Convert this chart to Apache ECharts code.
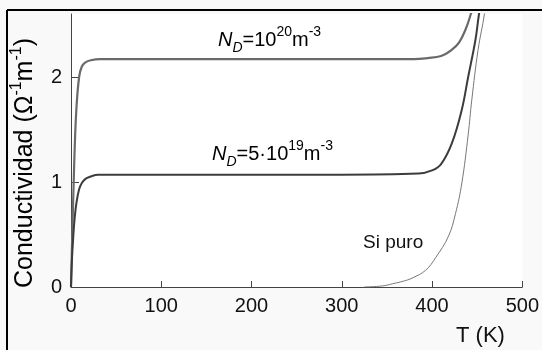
<!DOCTYPE html>
<html><head><meta charset="utf-8">
<script src="https://cdn.jsdelivr.net/npm/echarts@6/dist/echarts.min.js"></script>
<style>html,body{margin:0;padding:0;background:#f9f9f9;}#c{width:542px;height:350px;}</style>
</head><body><div id="c"></div>
<script>
// Data
const xTicks = [0, 100, 200, 300, 400, 500];
const yTicks = [0, 1, 2];
const T_1e20 = [0, 1, 2, 3, 4, 6, 9, 12, 16, 22, 32, 100, 200, 300, 380, 395, 410, 422, 430, 437, 443, 450];
const S_1e20 = [0, 0.35, 0.7, 1.0, 1.3, 1.7, 2.0, 2.1, 2.14, 2.16, 2.17, 2.17, 2.17, 2.17, 2.17, 2.18, 2.2, 2.26, 2.33, 2.45, 2.6, 2.8];
const T_5e19 = [0, 1, 2.5, 4, 6, 9, 12, 16, 21, 30, 100, 200, 300, 385, 400, 410, 422, 433, 440, 448, 452, 456];
const S_5e19 = [0, 0.25, 0.48, 0.65, 0.8, 0.93, 0.99, 1.03, 1.05, 1.07, 1.07, 1.07, 1.07, 1.08, 1.11, 1.17, 1.37, 1.69, 2.0, 2.35, 2.6, 2.8];
const T_Si = [325, 345, 356, 368, 378, 393, 404, 418, 426, 433, 440, 444, 451, 458, 462];
const S_Si = [0, 0.01, 0.03, 0.055, 0.085, 0.16, 0.28, 0.48, 0.7, 0.99, 1.45, 1.78, 2.26, 2.6, 2.9];
const labels = ['1e20', '5e19', 'Si puro'];

const zip = (a, b) => a.map((v, i) => [v, b[i]]);
const FF = '"Liberation Sans", Arial, sans-serif';
const chart = echarts.init(document.getElementById('c'));
const sub = {fontSize: 14, fontStyle: 'italic', fontFamily: FF, color: '#111', verticalAlign: 'bottom', lineHeight: 16};
const sup = {fontSize: 14, fontFamily: FF, color: '#111', verticalAlign: 'top', lineHeight: 16};
const base = {fontSize: 20, fontFamily: FF, color: '#111', lineHeight: 30, verticalAlign: 'middle'};
const rich = {n: Object.assign({}, base, {fontStyle: 'italic'}), d: sub, t: base, s: sup};

chart.setOption({
  backgroundColor: '#f9f9f9',
  animation: false,
  grid: {left: 71, right: 18, top: 14, bottom: 63, show: true, backgroundColor: '#ffffff', borderWidth: 0},
  xAxis: {
    type: 'value', min: xTicks[0], max: xTicks[xTicks.length - 1], interval: 100,
    axisLine: {lineStyle: {color: '#444', width: 1}},
    axisTick: {inside: true, length: 6, lineStyle: {color: '#444'}},
    axisLabel: {fontSize: 20, fontFamily: FF, color: '#111', margin: 9},
    splitLine: {show: false}
  },
  yAxis: {
    type: 'value', min: 0, max: 2.6, interval: 1,
    axisLine: {show: true, lineStyle: {color: '#444', width: 1}},
    axisTick: {inside: true, length: 8, lineStyle: {color: '#444'}, customValues: yTicks},
    axisLabel: {fontSize: 20, fontFamily: FF, color: '#111', margin: 9, customValues: yTicks},
    splitLine: {show: false}
  },
  series: [
    {name: labels[0], type: 'line', data: zip(T_1e20, S_1e20), showSymbol: false, smooth: 0.4,
     lineStyle: {color: '#6a6a6a', width: 2.2}, clip: true},
    {name: labels[1], type: 'line', data: zip(T_5e19, S_5e19), showSymbol: false, smooth: 0.4,
     lineStyle: {color: '#3c3c3c', width: 2}, clip: true},
    {name: labels[2], type: 'line', data: zip(T_Si, S_Si), showSymbol: false, smooth: 0.4,
     lineStyle: {color: '#777', width: 1}, clip: true}
  ],
  graphic: [
    {type: 'line', shape: {x1: 7, y1: 10, x2: 542, y2: 10}, style: {stroke: '#000', lineWidth: 2}},
    {type: 'line', shape: {x1: 7, y1: 10, x2: 7, y2: 350}, style: {stroke: '#000', lineWidth: 2}},
    {type: 'text', x: 218, y: 40, style: {text: '{n|N}{d|D}{t|=10}{s|20}{t|m}{s|-3}', rich: rich, verticalAlign: 'middle'}},
    {type: 'text', x: 212, y: 154, style: {text: '{n|N}{d|D}{t|=5·10}{s|19}{t|m}{s|-3}', rich: rich, verticalAlign: 'middle'}},
    {type: 'text', x: 363, y: 243, style: {text: 'Si puro', font: '19px ' + FF, fill: '#111', verticalAlign: 'middle'}},
    {type: 'text', x: 456, y: 336, style: {text: 'T (K)', font: '22px ' + FF, fill: '#111', verticalAlign: 'middle'}},
    {type: 'text', x: 25, y: 163, rotation: Math.PI / 2,
     style: {text: '{t|Conductividad (Ω}{s|-1}{t|m}{s|-1}{t|)}', align: 'center', verticalAlign: 'middle',
       rich: {t: {fontSize: 25, fontFamily: FF, color: '#111', lineHeight: 32, verticalAlign: 'middle'},
              s: {fontSize: 16, fontFamily: FF, color: '#111', lineHeight: 18, verticalAlign: 'top'}}}}
  ]
});
</script></body></html>
